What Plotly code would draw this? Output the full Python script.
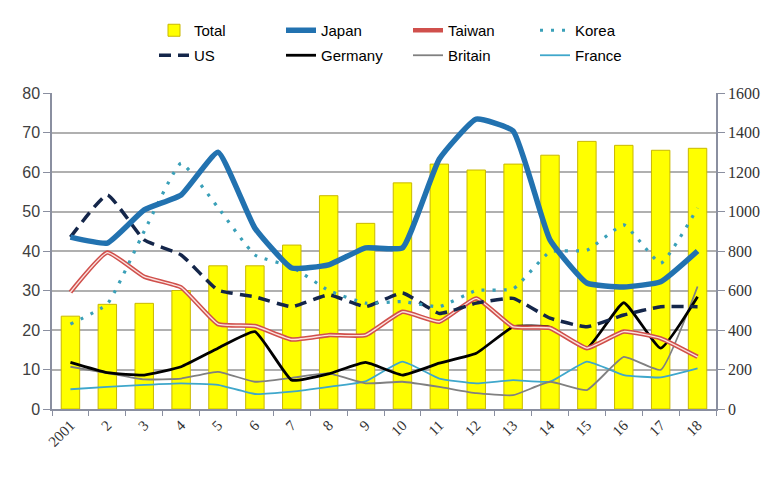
import plotly.graph_objects as go

years = ["2001", "2", "3", "4", "5", "6", "7", "8", "9", "10",
         "11", "12", "13", "14", "15", "16", "17", "18"]
total = [470, 530, 535, 600, 725, 725, 830, 1080, 940, 1145,
         1240, 1210, 1240, 1285, 1355, 1335, 1310, 1320]
japan = [43.5, 42, 50.4, 54.2, 65, 45.8, 35.7, 36.5, 40.8, 40.8,
         63.3, 73.4, 70.4, 42.8, 31.9, 30.9, 32.2, 40]
taiwan = [29.6, 39.6, 33.5, 30.8, 21.5, 21, 17.6, 18.7, 18.7, 24.6,
          22.1, 28, 20.8, 20.5, 15.4, 19.6, 17.9, 13.2]
korea = [21.5, 26.6, 45, 62.2, 51, 39, 36, 30, 26.8, 27.2,
         25.9, 30, 30.4, 39.8, 40.2, 46.6, 36.9, 50.9]
us = [43.5, 54.2, 42.8, 39, 30.1, 28.4, 25.9, 28.9, 25.9, 29.4,
      24.2, 26.8, 28, 23, 20.8, 23.8, 25.9, 25.9]
germany = [11.8, 9.2, 8.6, 10.7, 15.4, 19.6, 7.3, 8.9, 11.8, 8.6,
           11.6, 14.1, 20.8, 20.7, 15.4, 26.9, 15.4, 28.4]
britain = [10.7, 9.1, 7.5, 7.7, 9.4, 6.9, 7.9, 9.0, 6.5, 6.9,
           5.6, 4.0, 3.5, 6.9, 4.8, 13.2, 9.9, 31]
france = [5.0, 5.6, 6.1, 6.5, 6.1, 3.8, 4.4, 5.6, 7.0, 12,
          7.7, 6.5, 7.3, 6.9, 12, 8.6, 8, 10.3]

fig = go.Figure()

fig.add_trace(go.Bar(x=years, y=total, name="Total", yaxis="y", width=0.5,
                     marker=dict(color="#FFFF00", line=dict(color="#C9B800", width=1)),
                     legend="legend"))

def line(name, vals, color, width, dash="solid", leg="legend", show=True, shape="spline"):
    fig.add_trace(go.Scatter(x=years, y=vals, name=name, yaxis="y2", mode="lines",
                             line=dict(color=color, width=width, dash=dash, shape=shape, smoothing=0.4),
                             legend=leg, showlegend=show))

line("France", france, "#3FA7CB", 1.8, leg="legend2")
line("Britain", britain, "#808080", 1.8, leg="legend2")
line("Germany", germany, "#000000", 2.8, leg="legend2")
line("Taiwan", taiwan, "#D0504C", 4.5)
line("Taiwan_inner", taiwan, "#FBE3E0", 1.4, show=False)
line("US", us, "#14264A", 3.5, dash="12px,7px", leg="legend2")
line("Korea", korea, "#3AA0B8", 3.2, dash="3px,8px")
line("Japan", japan, "#2272B0", 5.5)

rank = {"Total": 1, "Japan": 2, "Taiwan": 3, "Korea": 4,
        "US": 5, "Germany": 6, "Britain": 7, "France": 8}
for tr in fig.data:
    if tr.name in rank:
        tr.legendrank = rank[tr.name]

legfont = dict(family="Liberation Sans, Arial, sans-serif", size=15, color="#000000")

W, H = 774, 469  # page body has an 8px margin

fig.update_layout(
    width=W, height=H,
    margin=dict(l=44, r=66, t=85, b=68, autoexpand=False),
    paper_bgcolor="white", plot_bgcolor="white",
    bargap=0.5,
    legend=dict(orientation="h", xref="container", yref="container",
                x=146 / W, y=1 - 6 / H, xanchor="left", yanchor="top",
                entrywidth=82, entrywidthmode="pixels", font=legfont,
                bgcolor="rgba(0,0,0,0)", traceorder="normal"),
    legend2=dict(orientation="h", xref="container", yref="container",
                 x=146 / W, y=1 - 31 / H, xanchor="left", yanchor="top",
                 entrywidth=82, entrywidthmode="pixels", font=legfont,
                 bgcolor="rgba(0,0,0,0)", traceorder="normal"),
    xaxis=dict(type="category", tickangle=-45, tickson="boundaries",
               ticks="outside", ticklen=5, tickcolor="#8A8FA0",
               showline=True, linecolor="#8A8FA0", linewidth=1.5,
               showgrid=False,
               tickfont=dict(family="Liberation Serif, Times New Roman, serif", size=15, color="#333333")),
    yaxis=dict(range=[0, 1600], dtick=200, side="right",
               showgrid=True, gridcolor="#B0B0B0", gridwidth=1.5,
               ticks="outside", ticklen=7, tickcolor="#8A8FA0",
               showline=True, linecolor="#8A8FA0", linewidth=1.5,
               zeroline=False,
               tickfont=dict(family="Liberation Serif, Times New Roman, serif", size=16, color="#333333")),
    yaxis2=dict(range=[0, 80], dtick=10, side="left", overlaying="y",
                showgrid=False, ticks="outside", ticklen=7, tickcolor="#8A8FA0",
                showline=True, linecolor="#8A8FA0", linewidth=1.5,
                zeroline=False,
                tickfont=dict(family="Liberation Sans, Arial, sans-serif", size=16, color="#404040")),
)

fig.write_html("out.html")
